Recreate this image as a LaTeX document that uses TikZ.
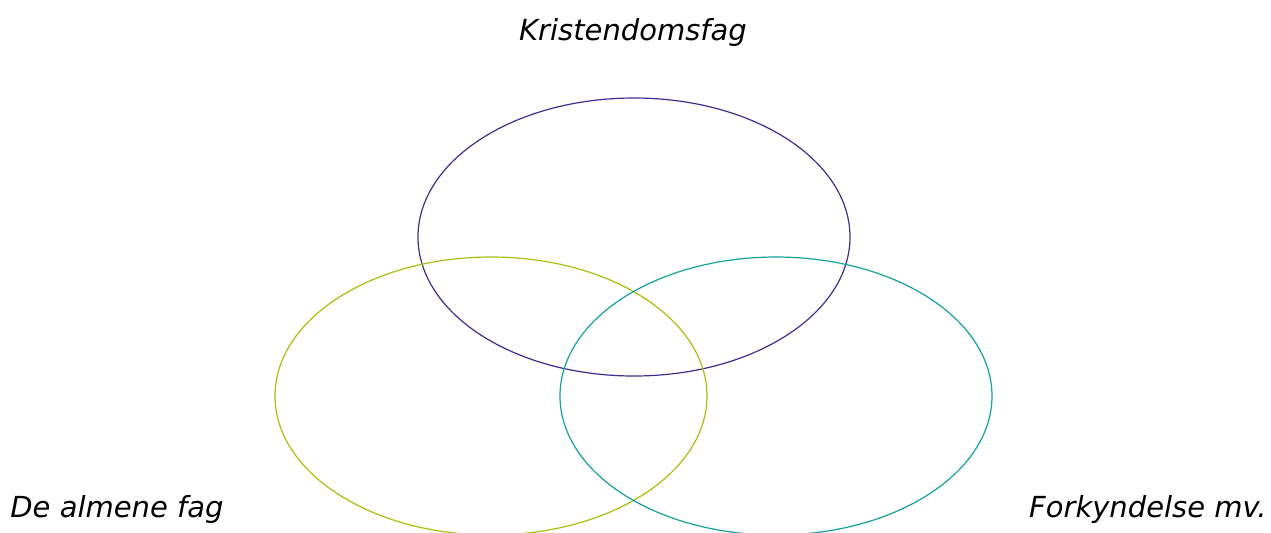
\documentclass[tikz,border=0pt]{standalone}
\usepackage{fontspec}
\setmainfont{DejaVu Sans}
\definecolor{cblue}{HTML}{3A2F93}
\definecolor{clime}{HTML}{A0C40E}
\definecolor{cteal}{HTML}{16A0A0}
\begin{document}
\begin{tikzpicture}[x=0.5pt,y=-0.5pt,
  lab/.style={font=\fontsize{14.5}{17}\selectfont\itshape, inner sep=0pt},
  ring/.style={line width=0.6pt}]
\useasboundingbox (0,0) rectangle (1271,532);
\draw[ring,cblue] (634,237) ellipse [x radius=216, y radius=139];
\draw[ring,clime] (491,396) ellipse [x radius=216, y radius=139];
\draw[ring,cteal] (776,396) ellipse [x radius=216, y radius=139];
\node[lab,anchor=base] (k) at (633,40) {Kristendomsfag};
\node[lab,anchor=base west] (a) at (10,517) {De almene fag};
\node[lab,anchor=base east] (f) at (1267,517) {Forkyndelse mv.};
\end{tikzpicture}
\end{document}
